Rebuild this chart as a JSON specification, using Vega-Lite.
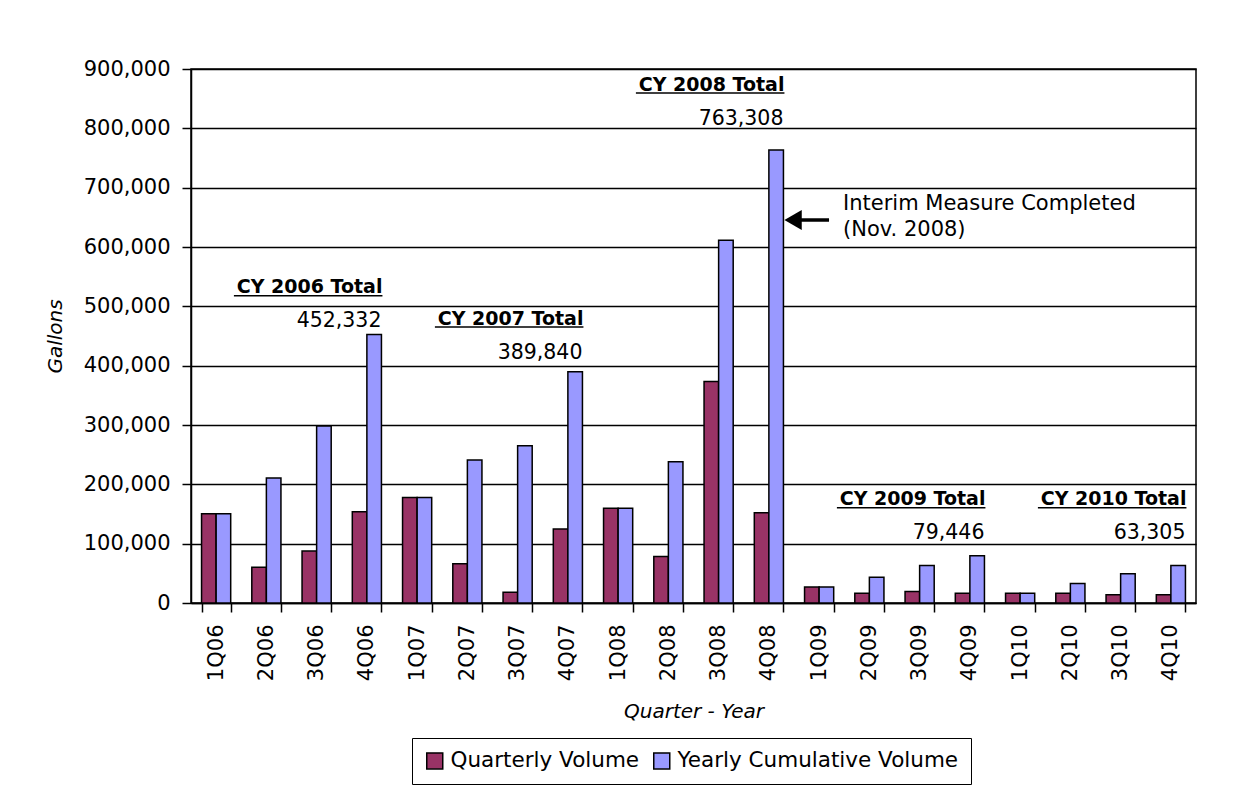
{
  "$schema": "https://vega.github.io/schema/vega-lite/v6.json",
  "width": 1005,
  "height": 534,
  "autosize": {"type": "none"},
  "padding": {"left": 191, "top": 69, "right": 54, "bottom": 207},
  "background": "white",
  "config": {
    "font": "DejaVu Sans",
    "view": {"stroke": "black", "strokeWidth": 1.5},
    "axis": {
      "domainColor": "black", "domainWidth": 1.5,
      "tickColor": "black", "tickWidth": 1.5, "tickSize": 9,
      "labelColor": "black", "labelFontSize": 21,
      "titleColor": "black", "titleFontSize": 20, "titleFontStyle": "italic", "titleFontWeight": "normal"
    }
  },
  "datasets": {
    "bars": [
      {"quarter": "1Q06", "series": "Quarterly Volume", "gallons": 150600},
      {"quarter": "1Q06", "series": "Yearly Cumulative Volume", "gallons": 150600},
      {"quarter": "2Q06", "series": "Quarterly Volume", "gallons": 60200},
      {"quarter": "2Q06", "series": "Yearly Cumulative Volume", "gallons": 210800},
      {"quarter": "3Q06", "series": "Quarterly Volume", "gallons": 87500},
      {"quarter": "3Q06", "series": "Yearly Cumulative Volume", "gallons": 298300},
      {"quarter": "4Q06", "series": "Quarterly Volume", "gallons": 153600},
      {"quarter": "4Q06", "series": "Yearly Cumulative Volume", "gallons": 452332},
      {"quarter": "1Q07", "series": "Quarterly Volume", "gallons": 177700},
      {"quarter": "1Q07", "series": "Yearly Cumulative Volume", "gallons": 177700},
      {"quarter": "2Q07", "series": "Quarterly Volume", "gallons": 66300},
      {"quarter": "2Q07", "series": "Yearly Cumulative Volume", "gallons": 241000},
      {"quarter": "3Q07", "series": "Quarterly Volume", "gallons": 18000},
      {"quarter": "3Q07", "series": "Yearly Cumulative Volume", "gallons": 265000},
      {"quarter": "4Q07", "series": "Quarterly Volume", "gallons": 124800},
      {"quarter": "4Q07", "series": "Yearly Cumulative Volume", "gallons": 389840},
      {"quarter": "1Q08", "series": "Quarterly Volume", "gallons": 159600},
      {"quarter": "1Q08", "series": "Yearly Cumulative Volume", "gallons": 159600},
      {"quarter": "2Q08", "series": "Quarterly Volume", "gallons": 78400},
      {"quarter": "2Q08", "series": "Yearly Cumulative Volume", "gallons": 238000},
      {"quarter": "3Q08", "series": "Quarterly Volume", "gallons": 373400},
      {"quarter": "3Q08", "series": "Yearly Cumulative Volume", "gallons": 611400},
      {"quarter": "4Q08", "series": "Quarterly Volume", "gallons": 151900},
      {"quarter": "4Q08", "series": "Yearly Cumulative Volume", "gallons": 763308},
      {"quarter": "1Q09", "series": "Quarterly Volume", "gallons": 27000},
      {"quarter": "1Q09", "series": "Yearly Cumulative Volume", "gallons": 27000},
      {"quarter": "2Q09", "series": "Quarterly Volume", "gallons": 16500},
      {"quarter": "2Q09", "series": "Yearly Cumulative Volume", "gallons": 43500},
      {"quarter": "3Q09", "series": "Quarterly Volume", "gallons": 19500},
      {"quarter": "3Q09", "series": "Yearly Cumulative Volume", "gallons": 63000},
      {"quarter": "4Q09", "series": "Quarterly Volume", "gallons": 16446},
      {"quarter": "4Q09", "series": "Yearly Cumulative Volume", "gallons": 79446},
      {"quarter": "1Q10", "series": "Quarterly Volume", "gallons": 16300},
      {"quarter": "1Q10", "series": "Yearly Cumulative Volume", "gallons": 16300},
      {"quarter": "2Q10", "series": "Quarterly Volume", "gallons": 16500},
      {"quarter": "2Q10", "series": "Yearly Cumulative Volume", "gallons": 33000},
      {"quarter": "3Q10", "series": "Quarterly Volume", "gallons": 14000},
      {"quarter": "3Q10", "series": "Yearly Cumulative Volume", "gallons": 49400},
      {"quarter": "4Q10", "series": "Quarterly Volume", "gallons": 14000},
      {"quarter": "4Q10", "series": "Yearly Cumulative Volume", "gallons": 63305}
    ],
    "totals": [
      {"start": "1Q06", "quarter": "4Q06", "title": "CY 2006 Total", "total": "452,332", "titleY": 532000, "totalY": 476000, "lineY": 518000},
      {"start": "1Q07", "quarter": "4Q07", "title": "CY 2007 Total", "total": "389,840", "titleY": 479000, "totalY": 422000, "lineY": 465000},
      {"start": "1Q08", "quarter": "4Q08", "title": "CY 2008 Total", "total": "763,308", "titleY": 873500, "totalY": 816000, "lineY": 859500},
      {"start": "1Q09", "quarter": "4Q09", "title": "CY 2009 Total", "total": "79,446", "titleY": 174700, "totalY": 117500, "lineY": 160700},
      {"start": "1Q10", "quarter": "4Q10", "title": "CY 2010 Total", "total": "63,305", "titleY": 174700, "totalY": 117500, "lineY": 160700}
    ],
    "arrow": [
      {"quarter": "4Q08", "quarter2": "1Q09", "y": 645500}
    ],
    "note": [
      {"quarter": "1Q09", "line": "Interim Measure Completed", "y": 672000},
      {"quarter": "1Q09", "line": "(Nov. 2008)", "y": 628000}
    ]
  },
  "layer": [
    {
      "data": {"name": "bars"},
      "mark": {"type": "bar", "stroke": "black", "strokeWidth": 1.5},
      "encoding": {
        "x": {
          "field": "quarter", "type": "nominal",
          "scale": {"domain": ["1Q06","2Q06","3Q06","4Q06","1Q07","2Q07","3Q07","4Q07","1Q08","2Q08","3Q08","4Q08","1Q09","2Q09","3Q09","4Q09","1Q10","2Q10","3Q10","4Q10"], "paddingInner": 0.42, "paddingOuter": 0.21},
          "axis": {"title": "Quarter - Year", "labelAngle": 270, "tickBand": "extent", "labelPadding": 12, "titlePadding": 21}
        },
        "xOffset": {
          "field": "series", "type": "nominal",
          "scale": {"domain": ["Quarterly Volume", "Yearly Cumulative Volume"], "paddingInner": 0, "paddingOuter": 0}
        },
        "y": {
          "field": "gallons", "type": "quantitative",
          "scale": {"domain": [0, 900000], "nice": false},
          "axis": {
            "title": "Gallons", "format": ",d",
            "values": [0,100000,200000,300000,400000,500000,600000,700000,800000,900000],
            "grid": true, "gridColor": "black", "gridWidth": 1.5, "gridOpacity": 1,
            "labelPadding": 12, "titlePadding": 18
          }
        },
        "color": {
          "field": "series", "type": "nominal",
          "scale": {"domain": ["Quarterly Volume", "Yearly Cumulative Volume"], "range": ["#993366", "#9999FF"]},
          "legend": {
            "title": null, "orient": "none", "legendX": 221, "legendY": 669, "direction": "horizontal",
            "symbolType": "square", "symbolSize": 256, "symbolStrokeColor": "black", "symbolStrokeWidth": 1.5, "symbolOpacity": 1,
            "labelFontSize": 21.5, "labelColor": "black", "labelOffset": 5, "columnPadding": 10, "labelLimit": 500,
            "strokeColor": "black", "fillColor": "white", "padding": 12
          }
        }
      }
    },
    {
      "data": {"name": "totals"},
      "mark": {"type": "text", "align": "right", "baseline": "middle", "fontWeight": "bold", "fontSize": 19, "dx": 1, "color": "black"},
      "encoding": {
        "x": {"field": "quarter", "type": "nominal", "bandPosition": 1},
        "y": {"field": "titleY", "type": "quantitative"},
        "text": {"field": "title"}
      }
    },
    {
      "data": {"name": "totals"},
      "mark": {"type": "text", "align": "right", "baseline": "middle", "fontSize": 20.5, "dx": 0, "color": "black"},
      "encoding": {
        "x": {"field": "quarter", "type": "nominal", "bandPosition": 1},
        "y": {"field": "totalY", "type": "quantitative"},
        "text": {"field": "total"}
      }
    },
    {
      "data": {"name": "totals"},
      "mark": {"type": "rule", "color": "black", "strokeWidth": 1.5},
      "encoding": {
        "x": {"field": "start", "type": "nominal", "bandPosition": 1.11},
        "x2": {"field": "quarter", "bandPosition": 1.034},
        "y": {"field": "lineY", "type": "quantitative"}
      }
    },
    {
      "data": {"name": "arrow"},
      "mark": {"type": "rule", "color": "black", "strokeWidth": 3.5},
      "encoding": {
        "x": {"field": "quarter", "type": "nominal", "bandPosition": 1.5},
        "x2": {"field": "quarter2", "bandPosition": 0.84},
        "y": {"field": "y", "type": "quantitative"}
      }
    },
    {
      "data": {"name": "arrow"},
      "mark": {"type": "point", "shape": "triangle-left", "filled": true, "color": "black", "size": 400, "opacity": 1},
      "encoding": {
        "x": {"field": "quarter", "type": "nominal", "bandPosition": 1.33},
        "y": {"field": "y", "type": "quantitative"}
      }
    },
    {
      "data": {"name": "note"},
      "mark": {"type": "text", "align": "left", "baseline": "middle", "fontSize": 21, "color": "black"},
      "encoding": {
        "x": {"field": "quarter", "type": "nominal", "bandPosition": 1.32},
        "y": {"field": "y", "type": "quantitative"},
        "text": {"field": "line"}
      }
    }
  ]
}
